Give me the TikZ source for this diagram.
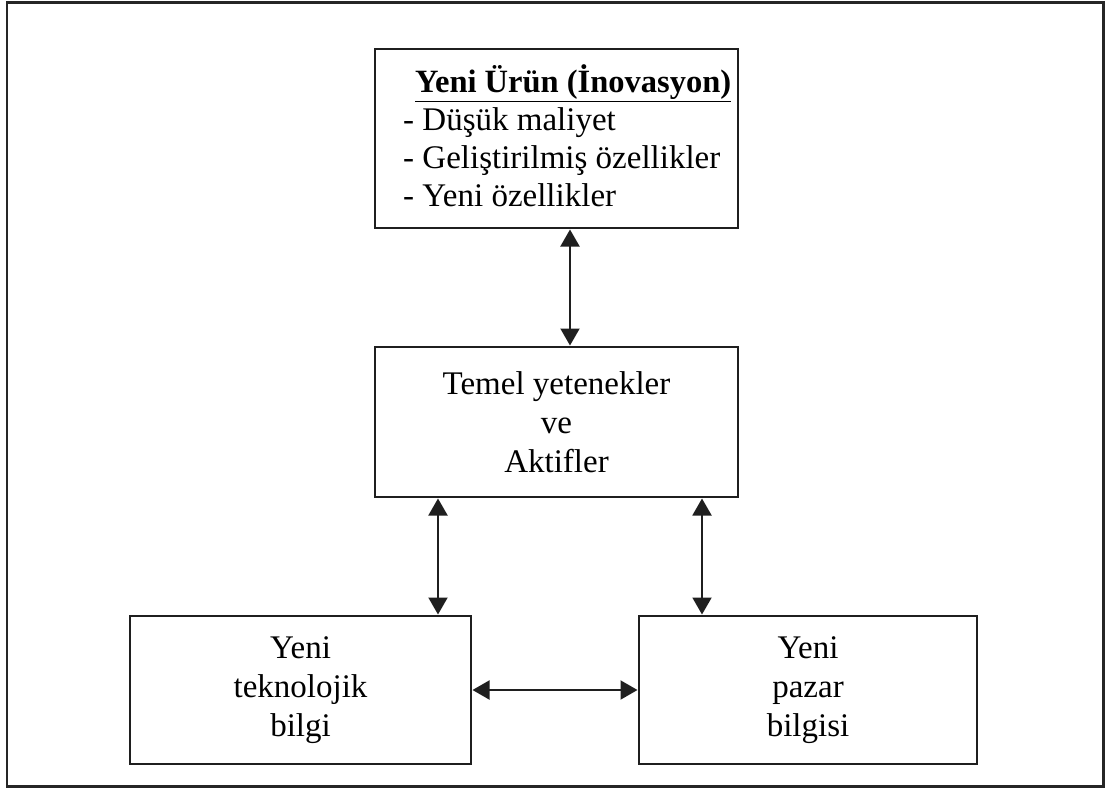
\documentclass[tikz,border=0pt]{standalone}
\usepackage{fontspec}
\setmainfont{Liberation Serif}
\usetikzlibrary{arrows.meta}
\begin{document}
\begin{tikzpicture}[x=1pt,y=-1pt,
  box/.style={draw=black!88, line width=2pt, rectangle, inner sep=0pt},
  lbl/.style={align=center, font=\fontsize{33}{39}\selectfont},
  link/.style={line width=2pt, draw=black!88, {Triangle[width=19pt,length=17pt]}-{Triangle[width=19pt,length=17pt]}, shorten <=0.5pt, shorten >=0.5pt}]
  \useasboundingbox (0,0) rectangle (1105,789);
  % outer frame
  \draw[line width=2.6pt, draw=black!85] (7,2.5) rectangle (1103.5,786.5);

  % boxes
  \node[box, minimum width=363pt, minimum height=179pt] (top) at (556.5,138.5) {};
  \node[box, lbl, minimum width=363pt, minimum height=150pt] (mid) at (556.5,422)
    {Temel yetenekler\\ve\\Aktifler};
  \node[box, lbl, minimum width=341pt, minimum height=148pt] (tek) at (300.5,690)
    {Yeni\\teknolojik\\bilgi};
  \node[box, lbl, minimum width=338pt, minimum height=148pt] (paz) at (808,690)
    {Yeni\\pazar\\bilgisi};

  % text of the product box
  \node[anchor=base west, inner sep=0pt, font=\fontsize{33}{38}\selectfont] (toptext) at (403,93)
    {\vtop{\hbox{\hspace{12pt}{\fontsize{32.5}{38}\selectfont\bfseries\underline{Yeni Ürün (İnovasyon)}}}
           \hbox{- Düşük maliyet}
           \hbox{- Geliştirilmiş özellikler}
           \hbox{- Yeni özellikler}}};

  % two-way links
  \draw[link] ([xshift=13.5pt]top.south) -- ([xshift=13.5pt]mid.north);
  \draw[link] ([xshift=-118.5pt]mid.south) -- ([xshift=137.5pt]tek.north);
  \draw[link] ([xshift=145.5pt]mid.south) -- ([xshift=-106pt]paz.north);
  \draw[link] (tek.east) -- (paz.west);
\end{tikzpicture}
\end{document}
